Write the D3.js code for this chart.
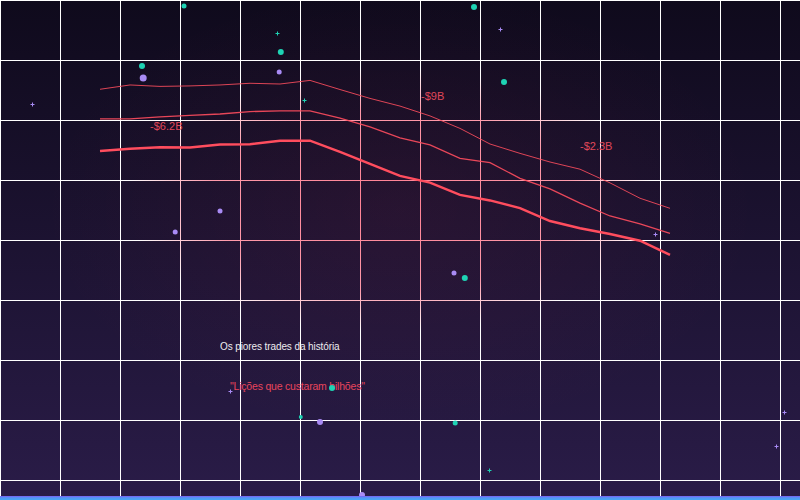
<!DOCTYPE html>
<html><head><meta charset="utf-8">
<script src="https://cdn.jsdelivr.net/npm/d3@7/dist/d3.min.js"></script>
<style>html,body{margin:0;padding:0;background:#110b1e;}svg{display:block;}</style>
</head><body><div id="chart"></div>
<script>
// ---- data ----
const steps = d3.range(20);
const seriesThin  = [87.8,89.6,89.0,89.2,89.6,90.3,90.0,91.5,87.7,84.0,80.8,76.7,71.5,65.0,61.1,57.5,54.5,48.8,42.4,38.2];
const seriesMid   = [75.5,75.5,76.3,76.9,77.5,78.5,78.8,78.8,75.8,72.1,67.6,64.6,59.0,57.2,50.7,46.3,40.4,35.0,31.7,27.8];
const seriesThick = [62.1,63.0,63.6,63.5,64.8,64.9,66.4,66.4,61.7,56.7,51.7,48.9,43.8,41.5,38.3,32.9,29.9,27.5,24.7,18.8];
const lossLabels = ["-$6.2B","-$9B","-$2.3B"];
const lossLabelStep = [1.67,10.7,16.0];
const lossLabelValue = [70.8,83.3,62.5];
const titleText = "Os piores trades da história";
const subtitleText = "\"Lições que custaram bilhões\"";
// decorative particles in scene percent units
const cyanDots = [[23,1.2,2.5],[17.75,13.2,3],[35.1,10.4,3],[59.25,1.4,3],[63,16.4,3],[58.1,55.6,3],[37.6,83.4,2],[41.5,77.6,3],[56.9,84.6,2.5]];
const lavenderDots = [[17.9,15.6,3.5],[34.9,14.4,2.5],[27.5,42.2,2.5],[21.9,46.4,2.5],[56.75,54.6,2.5],[40,84.4,3],[45.25,99,3]];
const cyanSparks = [[34.6,6.6],[38,20],[61.1,94]];
const lavenderSparks = [[4,20.8],[62.5,5.8],[81.9,46.8],[98,82.4],[97,89.2],[28.75,78.2]];

const W = 800, H = 500;
const svg = d3.select("#chart").append("svg").attr("width", W).attr("height", H);
const defs = svg.append("defs");

const bg = defs.append("linearGradient").attr("id","bg").attr("x1",0).attr("y1",0).attr("x2",0).attr("y2",1);
bg.append("stop").attr("offset","0%").attr("stop-color","#0f0a1c");
bg.append("stop").attr("offset","100%").attr("stop-color","#2a1c48");

const glow = defs.append("radialGradient").attr("id","glow").attr("cx","50%").attr("cy","42%").attr("r","45%");
glow.append("stop").attr("offset","0%").attr("stop-color","#ff3a5c").attr("stop-opacity",0.06);
glow.append("stop").attr("offset","100%").attr("stop-color","#ff3a5c").attr("stop-opacity",0);

const gridGrad = defs.append("radialGradient").attr("id","gridGrad")
  .attr("gradientUnits","userSpaceOnUse").attr("cx",390).attr("cy",200).attr("r",330)
  .attr("gradientTransform","translate(390,200) scale(1,0.5) translate(-390,-200)");
gridGrad.append("stop").attr("offset","0%").attr("stop-color","#ff7f92");
gridGrad.append("stop").attr("offset","55%").attr("stop-color","#ff9aaa");
gridGrad.append("stop").attr("offset","80%").attr("stop-color","#ffffff");
gridGrad.append("stop").attr("offset","100%").attr("stop-color","#ffffff");

const bar = defs.append("linearGradient").attr("id","bar").attr("x1",0).attr("y1",0).attr("x2",0).attr("y2",1);
bar.append("stop").attr("offset","0%").attr("stop-color","#7d5cf2");
bar.append("stop").attr("offset","35%").attr("stop-color","#5a8ef5");
bar.append("stop").attr("offset","100%").attr("stop-color","#45aaf5");

svg.append("rect").attr("width",W).attr("height",H).attr("fill","url(#bg)");
svg.append("rect").attr("width",W).attr("height",H).attr("fill","url(#glow)");

// grid
const g = svg.append("g").attr("stroke","url(#gridGrad)").attr("stroke-width",1).attr("shape-rendering","crispEdges");
d3.range(0, W, 60).forEach(v => g.append("line").attr("x1",v+0.5).attr("x2",v+0.5).attr("y1",0).attr("y2",496));
d3.range(0, 481, 60).forEach(v => g.append("line").attr("x1",0).attr("x2",W).attr("y1",v+0.5).attr("y2",v+0.5));

// scales
const x = d3.scaleLinear().domain([0,19]).range([100,670]);
const y = d3.scaleLinear().domain([0,100]).range([300,60]);
const sx = d3.scaleLinear().domain([0,100]).range([0,W]);
const sy = d3.scaleLinear().domain([0,100]).range([0,H]);

const line = d3.line().x((d,i)=>x(steps[i])).y(d=>y(d));
const red = "#ff4d5e";
svg.append("path").attr("d",line(seriesThin)).attr("fill","none").attr("stroke",red).attr("stroke-width",1).attr("opacity",0.85);
svg.append("path").attr("d",line(seriesMid)).attr("fill","none").attr("stroke",red).attr("stroke-width",1.3).attr("opacity",0.9);
svg.append("path").attr("d",line(seriesThick)).attr("fill","none").attr("stroke",red).attr("stroke-width",2.5);

svg.selectAll("text.loss").data(lossLabels).enter().append("text").attr("class","loss")
  .attr("x",(d,i)=>x(lossLabelStep[i])).attr("y",(d,i)=>y(lossLabelValue[i]))
  .attr("fill","#e0485a").attr("font-family","Liberation Sans, Arial, sans-serif").attr("font-size",11)
  .text(d=>d);

svg.append("text").attr("x",sx(27.5)).attr("y",sy(70)).attr("fill","#ffffff").attr("opacity",0.92)
  .attr("font-family","Liberation Sans, Arial, sans-serif").attr("font-size",10).attr("letter-spacing",-0.1).text(titleText);
svg.append("text").attr("x",sx(28.75)).attr("y",sy(78)).attr("fill","#e8455c")
  .attr("font-family","Liberation Sans, Arial, sans-serif").attr("font-size",10.5).attr("letter-spacing",-0.2).text(subtitleText);

// particles
svg.selectAll("circle.c").data(cyanDots).enter().append("circle").attr("class","c")
  .attr("cx",d=>sx(d[0])).attr("cy",d=>sy(d[1])).attr("r",d=>d[2]).attr("fill","#1ed3b4");
svg.selectAll("circle.l").data(lavenderDots).enter().append("circle").attr("class","l")
  .attr("cx",d=>sx(d[0])).attr("cy",d=>sy(d[1])).attr("r",d=>d[2]).attr("fill","#a98bf5");
function spark(data, color){
  svg.selectAll(null).data(data).enter().append("path")
    .attr("d",d=>{const cx=Math.round(sx(d[0]))+0.5, cy=Math.round(sy(d[1]))+0.5; return `M${cx-2},${cy}H${cx+2}M${cx},${cy-2}V${cy+2}`;})
    .attr("stroke",color).attr("stroke-width",1).attr("fill","none");
}
spark(cyanSparks,"#1ed3b4");
spark(lavenderSparks,"#a98bf5");

svg.append("rect").attr("x",0).attr("y",496).attr("width",W).attr("height",4).attr("fill","url(#bar)");
</script></body></html>
